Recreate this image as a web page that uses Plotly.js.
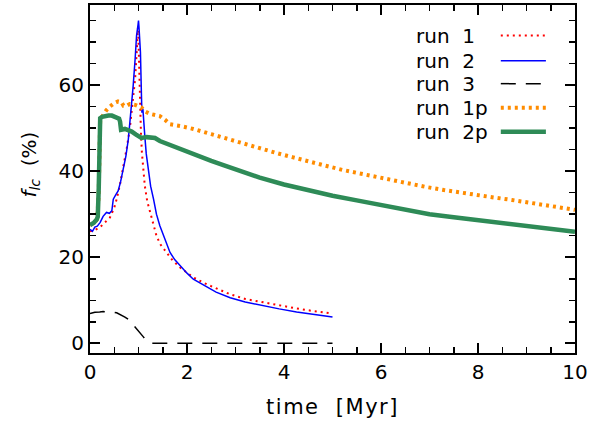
<!DOCTYPE html>
<html>
<head>
<meta charset="utf-8">
<script src="https://cdn.plot.ly/plotly-3.0.1.min.js"></script>
<style>
body{margin:0;padding:0;background:#fff;}
#chart{width:602px;height:428px;}
.xtitle{letter-spacing:1.5px;}
</style>
</head>
<body>
<div id="chart"></div>
<script>
// ---- data ----
const seriesNames = ["run\u00a0\u00a01", "run\u00a0\u00a02", "run\u00a0\u00a03", "run\u00a0\u00a01p", "run\u00a0\u00a02p"];

const run1_t = [0, 0.1, 0.21, 0.3, 0.41, 0.5, 0.55, 0.62, 0.69, 0.76, 0.82, 0.88, 0.93, 0.97, 0.99, 1.01, 1.03, 1.05, 1.07, 1.1, 1.13, 1.18, 1.24, 1.3, 1.37, 1.45, 1.58, 1.7, 1.86, 2.0, 2.13, 2.41, 2.89, 3.2, 3.57, 3.9, 4.26, 4.6, 4.95, 5.0];
const run1_f = [26, 26.3, 27, 28, 29.2, 31.5, 33.5, 37, 41, 45.5, 49.8, 56, 61.4, 69, 73.5, 66, 54.4, 49, 44.3, 40, 36.6, 33, 30.4, 27.5, 25, 23, 21.1, 19.3, 17.6, 16.3, 15.3, 13.7, 11.4, 10.3, 9.5, 8.8, 8.1, 7.5, 7.0, 6.9];

const run2_t = [0, 0.05, 0.1, 0.15, 0.21, 0.27, 0.34, 0.4, 0.45, 0.48, 0.53, 0.58, 0.63, 0.69, 0.74, 0.79, 0.84, 0.89, 0.93, 0.96, 0.99, 1.0, 1.01, 1.02, 1.04, 1.06, 1.07, 1.09, 1.1, 1.13, 1.16, 1.2, 1.25, 1.31, 1.37, 1.44, 1.55, 1.65, 1.75, 1.86, 2.0, 2.13, 2.27, 2.41, 2.6, 2.89, 3.2, 3.57, 3.9, 4.26, 4.6, 4.98, 5.0];
const run2_f = [26.5, 26, 27, 27.2, 28.1, 29.5, 30.4, 30.2, 30.8, 33.5, 34.5, 35.4, 37.5, 40.5, 43.5, 47.4, 53, 59.8, 66, 71.5, 74, 75, 73.5, 71, 67.6, 58, 53.6, 54.5, 52, 48.2, 44, 40.5, 36.5, 33.5, 30, 27.3, 23.8, 21.1, 19.4, 18, 16.3, 14.9, 13.9, 13.1, 11.9, 10.6, 9.6, 8.7, 8, 7.3, 6.8, 6.2, 6.1];

const run3_t = [0, 0.1, 0.2, 0.27, 0.35, 0.45, 0.55, 0.65, 0.72, 0.79, 0.87, 0.95, 1.03, 1.1, 1.17, 1.22, 1.27, 1.5, 2, 2.5, 3, 3.5, 4, 4.5, 5.0];
const run3_f = [6.9, 7.2, 7.3, 7.4, 7.3, 7.3, 7.1, 6.6, 6.1, 5.6, 4.6, 3.6, 2.5, 1.5, 0.5, 0.2, 0, 0, 0, 0, 0, 0, 0, 0, 0];

const run1p_t = [0, 0.1, 0.15, 0.18, 0.21, 0.27, 0.34, 0.41, 0.5, 0.58, 0.65, 0.69, 0.76, 0.82, 0.93, 1.06, 1.13, 1.24, 1.34, 1.44, 1.55, 1.65, 1.86, 2.13, 2.5, 2.82, 3.2, 3.5, 3.85, 4.19, 4.5, 4.88, 5.2, 5.57, 5.9, 6.25, 6.6, 6.94, 7.3, 7.63, 8.0, 8.32, 8.7, 9.0, 9.5, 10];
const run1p_f = [27.5, 28, 29, 35, 52, 53.1, 54.2, 55, 55.8, 56.2, 56, 55.2, 55.2, 55.6, 55.4, 54.8, 53.9, 53.3, 53.1, 52.8, 51.9, 50.9, 50.5, 49.8, 48.6, 47.5, 46.3, 45.3, 44.2, 43.2, 42.2, 41.2, 40.3, 39.4, 38.6, 37.8, 37.0, 36.3, 35.6, 35.0, 34.4, 33.9, 33.3, 32.7, 31.9, 31.0];

const run2p_t = [0, 0.08, 0.14, 0.16, 0.18, 0.19, 0.21, 0.25, 0.3, 0.38, 0.45, 0.55, 0.6, 0.62, 0.64, 0.72, 0.8, 0.86, 0.95, 1.06, 1.17, 1.26, 1.34, 1.44, 1.55, 1.72, 1.9, 2.0, 2.25, 2.5, 2.75, 3.0, 3.5, 4.0, 4.5, 5.0, 5.5, 6.0, 6.5, 7.0, 7.5, 8.0, 8.5, 9.0, 9.5, 10];
const run2p_f = [27.5, 28, 28.8, 29.4, 36, 43.4, 52.3, 52.6, 52.8, 52.9, 52.9, 52.6, 52.2, 51.5, 49.6, 49.8, 49.5, 49.2, 48.5, 47.7, 47.9, 47.9, 47.7, 47, 46.5, 45.9, 45.0, 44.6, 43.5, 42.4, 41.4, 40.4, 38.5, 36.9, 35.5, 34.3, 33.2, 32.2, 31.2, 30.0, 29.3, 28.6, 27.8, 27.1, 26.5, 25.9];

const xTickVals = [0, 2, 4, 6, 8, 10];
const yTickVals = [0, 20, 40, 60];

// ---- styles ----
const styles = [
  {color: "#ff0000", width: 2, dash: "2px,4px"},
  {color: "#0000ff", width: 1.5, dash: "solid"},
  {color: "#000000", width: 1.5, dash: "15px,10px"},
  {color: "#ff8c00", width: 4, dash: "3px,4px"},
  {color: "#2e8b57", width: 4.5, dash: "solid"}
];
const xs = [run1_t, run2_t, run3_t, run1p_t, run2p_t];
const ys = [run1_f, run2_f, run3_f, run1p_f, run2p_f];

const traces = xs.map((x, i) => ({
  x: x, y: ys[i], type: "scatter", mode: "lines", name: seriesNames[i],
  line: {color: styles[i].color, width: styles[i].width, dash: styles[i].dash},
  showlegend: false
}));

// custom legend (text left, sample right)
const legRowY = [0.912, 0.840, 0.774, 0.705, 0.636];
const annotations = seriesNames.map((n, i) => ({
  xref: "paper", yref: "paper", x: 0.668, y: legRowY[i], xanchor: "left", yanchor: "middle",
  text: n, showarrow: false, font: {family: "DejaVu Sans", size: 20, color: "#000"}
}));
// y-axis title placed as annotation (reference title sits above the plot centre)
annotations.push({
  xref: "paper", yref: "paper", x: -0.124, y: 0.541, xanchor: "center", yanchor: "middle",
  textangle: -90, showarrow: false,
  text: "<i>f</i><sub><i>lc</i></sub>\u00a0\u00a0(%)",
  font: {family: "DejaVu Sans", size: 20, color: "#000"}
});
const shapes = seriesNames.map((n, i) => ({
  type: "line", xref: "paper", yref: "paper", x0: 0.847, x1: 0.940, y0: legRowY[i], y1: legRowY[i],
  line: {color: styles[i].color, width: styles[i].width, dash: styles[i].dash}
}));

const font = {family: "DejaVu Sans", size: 20, color: "#000"};
const layout = {
  width: 602, height: 428,
  margin: {l: 90, r: 27, t: 5, b: 75},
  paper_bgcolor: "#fff", plot_bgcolor: "#fff",
  font: font,
  showlegend: false,
  xaxis: {
    range: [0, 10], tickvals: xTickVals, ticktext: xTickVals.map(String),
    ticks: "inside", ticklen: 10, tickwidth: 2, tickcolor: "#000",
    minor: {dtick: 0.5, ticks: "inside", ticklen: 6, tickwidth: 1.5, tickcolor: "#000", showgrid: false},
    showline: true, linewidth: 2, linecolor: "#000", mirror: "ticks",
    showgrid: false, zeroline: false, tickfont: font,
    title: {text: "time\u00a0\u00a0[Myr]", font: {family: "DejaVu Sans", size: 21, color: "#000"}, standoff: 16}
  },
  yaxis: {
    range: [-2.25, 78.6], tickvals: yTickVals, ticktext: yTickVals.map(String),
    ticks: "inside", ticklen: 10, tickwidth: 2, tickcolor: "#000",
    minor: {dtick: 5, tick0: 0, ticks: "inside", ticklen: 6, tickwidth: 1.5, tickcolor: "#000", showgrid: false},
    showline: true, linewidth: 2, linecolor: "#000", mirror: "ticks",
    showgrid: false, zeroline: false, tickfont: font
  },
  annotations: annotations,
  shapes: shapes
};

Plotly.newPlot("chart", traces, layout, {staticPlot: true, displayModeBar: false});
</script>
</body>
</html>
